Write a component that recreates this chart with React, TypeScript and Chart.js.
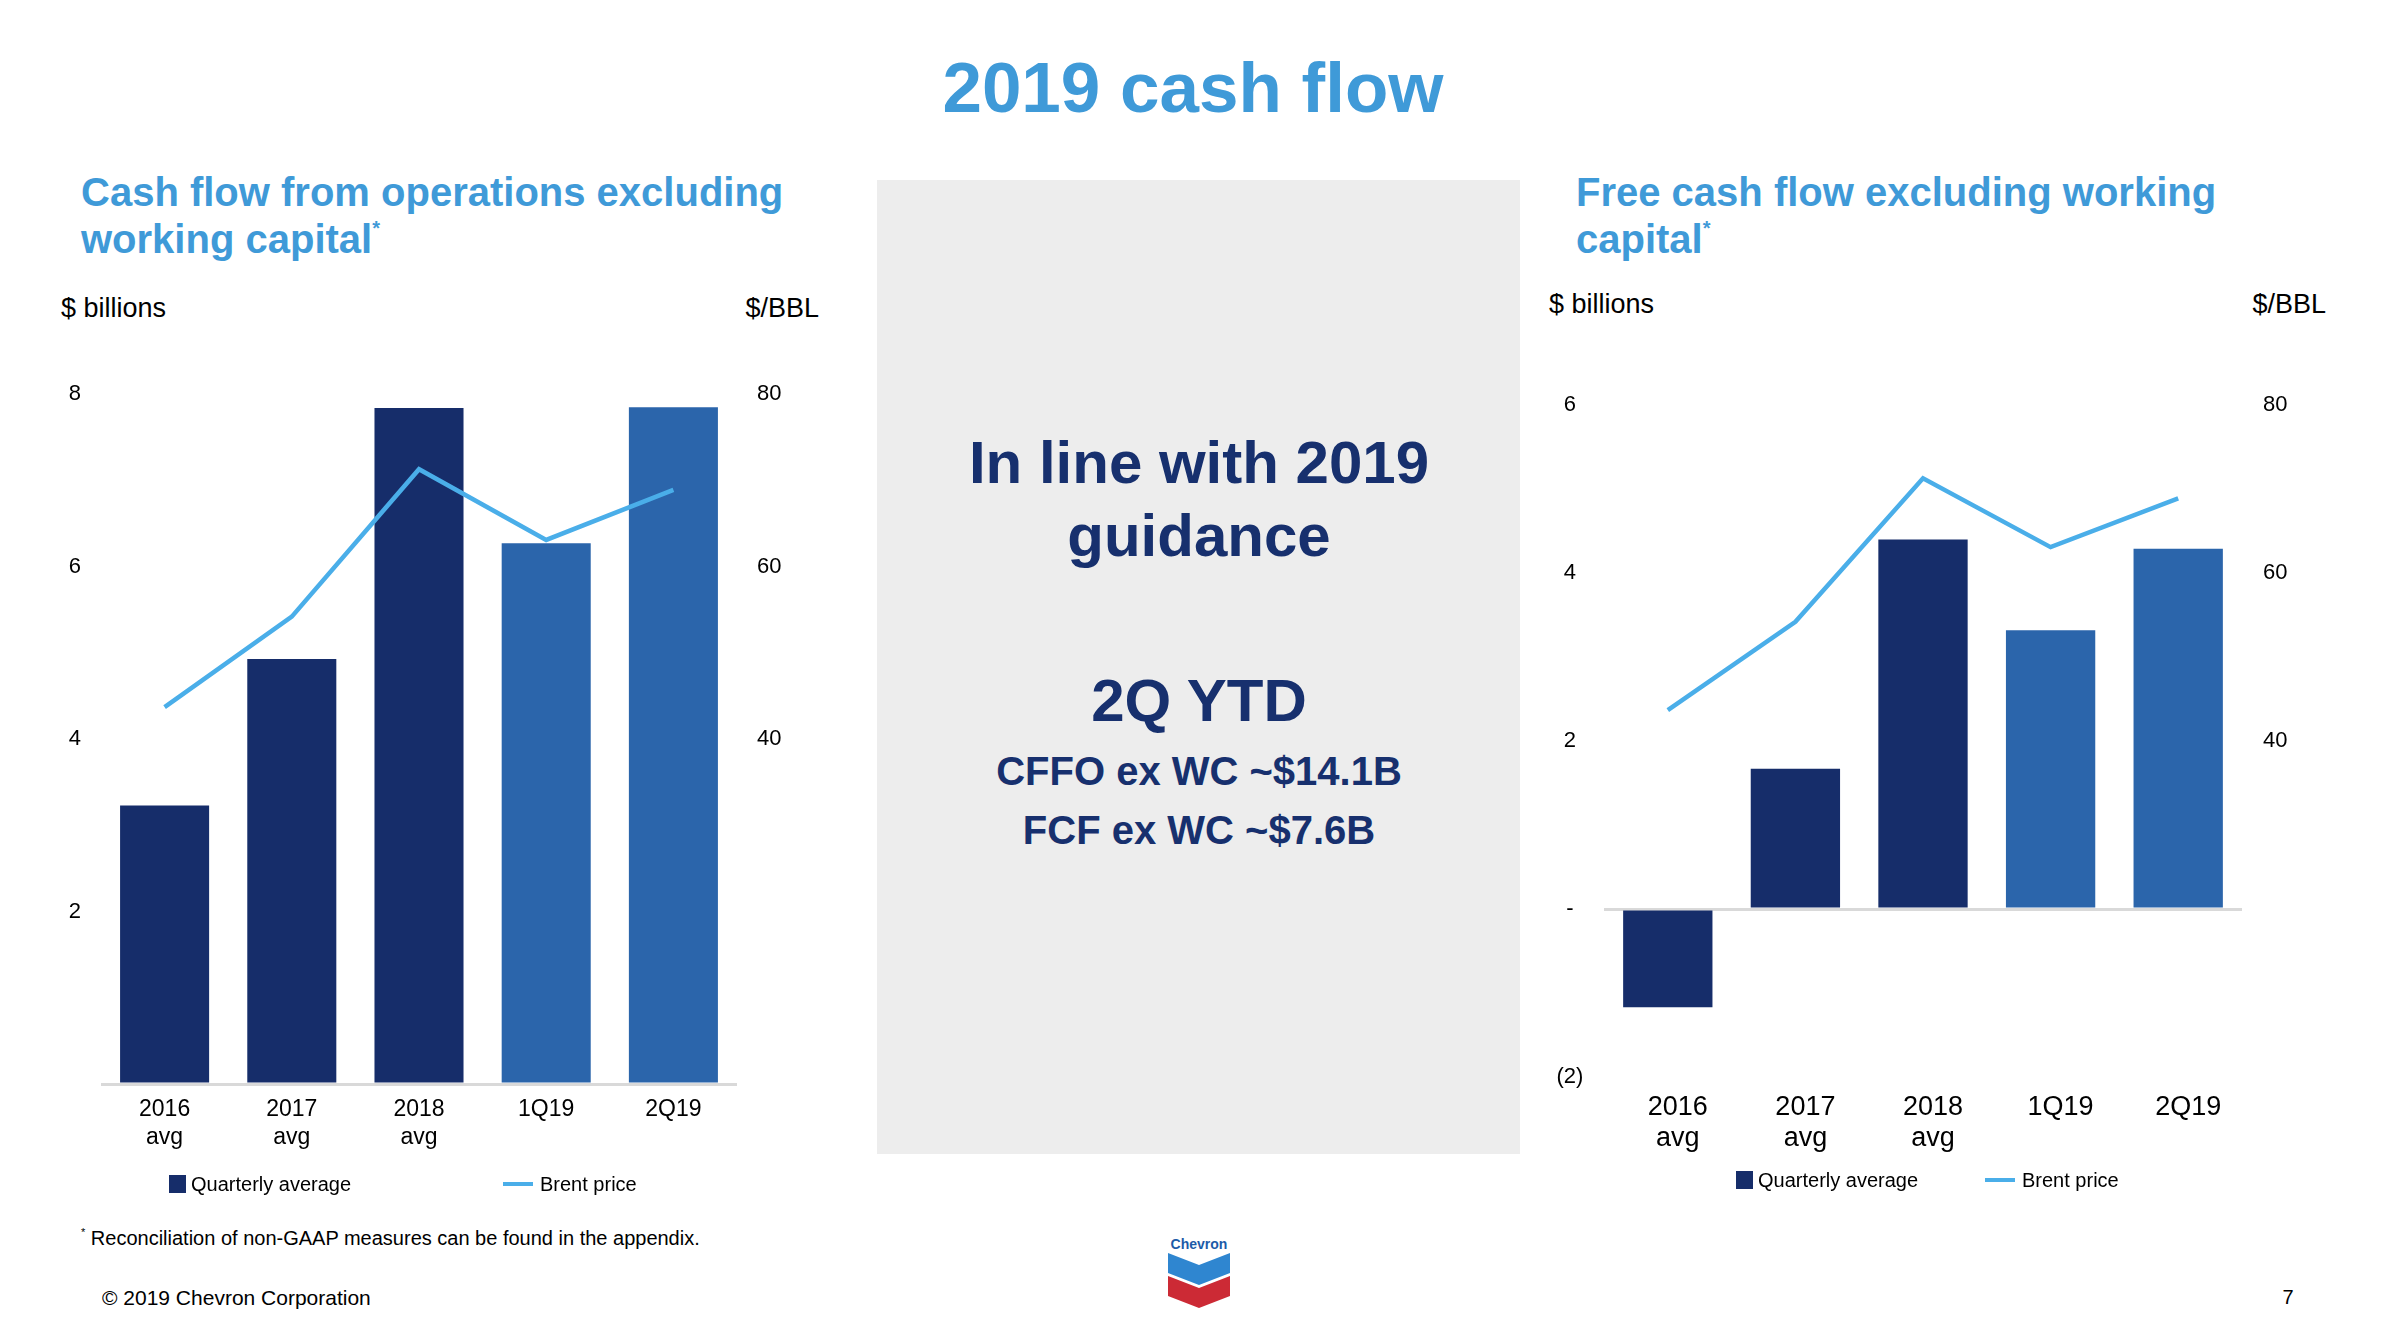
import { useEffect, useRef } from 'react';
import { Chart, registerables } from 'chart.js';

Chart.register(...registerables);

const FONT = "'Liberation Sans', Arial, sans-serif";
const NAVY = '#162d6a';
const MID_BLUE = '#2b65ab';
const BRENT_BLUE = '#4aaee9';
const TITLE_BLUE = '#3f9ad8';
const TEXT_NAVY = '#17306e';

// data
const categories = [['2016', 'avg'], ['2017', 'avg'], ['2018', 'avg'], '1Q19', '2Q19'];
const cffoExWc = [3.23, 4.93, 7.84, 6.27, 7.85];
const fcfExWc = [-1.17, 1.67, 4.4, 3.32, 4.29];
const brentPrice = [43.7, 54.2, 71.3, 63.1, 68.9];
const barColors = [NAVY, NAVY, NAVY, MID_BLUE, MID_BLUE];

const cffoTickValues = [0, 2, 4, 6, 8];
const cffoTickLabels = ['', '2', '4', '6', '8'];
const fcfTickValues = [-2, 0, 2, 4, 6];
const fcfTickLabels = ['(2)', '-', '2', '4', '6'];
const brentTickValues = [40, 60, 80];
const brentTickLabels = ['40', '60', '80'];

interface ComboProps {
  bars: number[];
  line: number[];
  yMin: number;
  yMax: number;
  yTicks: number[];
  yLabels: string[];
  y1Min: number;
  y1Max: number;
  leftWidth: number;
  leftPad: number;
  rightWidth: number;
  rightPad: number;
  xFont: number;
  xLineHeight: number;
  xPad: number;
  xOffset: number;
  xHeight: number;
  width: number;
  height: number;
  left: number;
  top: number;
}

function ComboChart(p: ComboProps) {
  const ref = useRef<HTMLCanvasElement | null>(null);

  useEffect(() => {
    if (ref.current == null) return;
    const chart = new Chart(ref.current, {
      type: 'bar',
      data: {
        labels: categories,
        datasets: [
          {
            type: 'line',
            label: 'Brent price',
            data: p.line,
            yAxisID: 'y1',
            borderColor: BRENT_BLUE,
            borderWidth: 4.5,
            pointRadius: 0,
            tension: 0,
            order: 0,
          },
          {
            type: 'bar',
            label: 'Quarterly average',
            data: p.bars,
            yAxisID: 'y',
            backgroundColor: barColors,
            barPercentage: 0.7,
            categoryPercentage: 1,
            order: 1,
          },
        ],
      },
      options: {
        animation: false,
        responsive: false,
        maintainAspectRatio: false,
        layout: { padding: 0 },
        plugins: { legend: { display: false }, tooltip: { enabled: false } },
        scales: {
          x: {
            grid: { display: false, drawTicks: false },
            border: { display: false },
            ticks: {
              color: '#000',
              font: { family: FONT, size: p.xFont, lineHeight: p.xLineHeight },
              padding: p.xPad,
              labelOffset: p.xOffset,
              maxRotation: 0,
              autoSkip: false,
            },
            afterFit: (s: any) => {
              s.height = p.xHeight;
            },
          },
          y: {
            position: 'left',
            min: p.yMin,
            max: p.yMax,
            afterBuildTicks: (s: any) => {
              s.ticks = p.yTicks.map((v) => ({ value: v }));
            },
            ticks: {
              color: '#000',
              font: { family: FONT, size: 22, lineHeight: 1.2 },
              padding: p.leftPad,
              crossAlign: 'center',
              callback: (v: any) => p.yLabels[p.yTicks.indexOf(Number(v))] ?? '',
            },
            grid: {
              drawTicks: false,
              lineWidth: 3,
              color: (ctx: any) => (ctx.tick && ctx.tick.value === 0 ? '#d9d9d9' : 'rgba(0,0,0,0)'),
            },
            border: { display: false },
            afterFit: (s: any) => {
              s.width = p.leftWidth;
            },
          },
          y1: {
            position: 'right',
            min: p.y1Min,
            max: p.y1Max,
            afterBuildTicks: (s: any) => {
              s.ticks = brentTickValues.map((v) => ({ value: v }));
            },
            ticks: {
              color: '#000',
              font: { family: FONT, size: 22, lineHeight: 1.2 },
              padding: p.rightPad,
              callback: (v: any) => brentTickLabels[brentTickValues.indexOf(Number(v))] ?? '',
            },
            grid: { display: false, drawTicks: false },
            border: { display: false },
            afterFit: (s: any) => {
              s.width = p.rightWidth;
            },
          },
        },
      },
    });
    return () => chart.destroy();
  }, []);

  return (
    <canvas
      ref={ref}
      width={p.width}
      height={p.height}
      style={{ position: 'absolute', left: p.left, top: p.top, width: p.width, height: p.height }}
    />
  );
}

function Txt(props: {
  x: number;
  y: number;
  size: number;
  children: any;
  color?: string;
  bold?: boolean;
  align?: 'left' | 'center' | 'right';
  w?: number;
}) {
  const h = Math.round(props.size * 1.3);
  const w = props.w ?? 1200;
  let left = props.x;
  if (props.align === 'center') left = props.x - w / 2;
  if (props.align === 'right') left = props.x - w;
  return (
    <div
      style={{
        position: 'absolute',
        left,
        top: props.y - h / 2,
        width: w,
        height: h,
        lineHeight: `${h}px`,
        fontSize: props.size,
        fontFamily: FONT,
        fontWeight: props.bold ? 700 : 400,
        color: props.color ?? '#000',
        textAlign: props.align ?? 'left',
        whiteSpace: 'nowrap',
      }}
    >
      {props.children}
    </div>
  );
}

function Legend({ x, y, lineX }: { x: number; y: number; lineX: number }) {
  return (
    <>
      <div style={{ position: 'absolute', left: x, top: y - 9, width: 17, height: 18, background: NAVY }} />
      <Txt x={x + 22} y={y} size={20}>
        Quarterly average
      </Txt>
      <div style={{ position: 'absolute', left: lineX, top: y - 2, width: 30, height: 4, background: BRENT_BLUE }} />
      <Txt x={lineX + 37} y={y} size={20}>
        Brent price
      </Txt>
    </>
  );
}

function Logo() {
  return (
    <svg style={{ position: 'absolute', left: 1168, top: 1236 }} width={62} height={72} viewBox="0 0 62 72">
      <text x={31} y={13} textAnchor="middle" fontFamily={FONT} fontWeight={700} fontSize={14} fill="#1d5ba8">
        Chevron
      </text>
      <polygon points="0,17 31,29 62,17 62,37 31,49 0,37" fill="#2f86d0" />
      <polygon points="0,40 31,52 62,40 62,60 31,72 0,60" fill="#cc2a35" />
    </svg>
  );
}

export default function App() {
  return (
    <div style={{ position: 'absolute', left: 0, top: 0, width: 2388, height: 1324, background: '#fff', overflow: 'hidden' }}>
      <Txt x={1193} y={88} size={71} bold color={TITLE_BLUE} align="center" w={1000}>
        2019 cash flow
      </Txt>

      {/* left panel */}
      <Txt x={81} y={192} size={40} bold color={TITLE_BLUE}>
        Cash flow from operations excluding
      </Txt>
      <Txt x={81} y={239} size={40} bold color={TITLE_BLUE}>
        working capital<sup style={{ fontSize: 20, verticalAlign: 'top', lineHeight: '30px' }}>*</sup>
      </Txt>
      <Txt x={61} y={308} size={27}>
        $ billions
      </Txt>
      <Txt x={819} y={308} size={27} align="right" w={200}>
        $/BBL
      </Txt>
      <ComboChart
        bars={cffoExWc}
        line={brentPrice}
        yMin={0}
        yMax={8}
        yTicks={cffoTickValues}
        yLabels={cffoTickLabels}
        y1Min={0}
        y1Max={80}
        leftWidth={60}
        leftPad={20}
        rightWidth={90}
        rightPad={20}
        xFont={23}
        xLineHeight={1.25}
        xPad={11}
        xOffset={0}
        xHeight={90}
        width={786}
        height={813}
        left={41}
        top={361}
      />
      <Legend x={169} y={1184} lineX={503} />

      {/* middle panel */}
      <div style={{ position: 'absolute', left: 877, top: 180, width: 643, height: 974, background: '#ededed' }} />
      <Txt x={1199} y={463} size={60} bold color={TEXT_NAVY} align="center" w={640}>
        In line with 2019
      </Txt>
      <Txt x={1199} y={536} size={60} bold color={TEXT_NAVY} align="center" w={640}>
        guidance
      </Txt>
      <Txt x={1199} y={701} size={60} bold color={TEXT_NAVY} align="center" w={640}>
        2Q YTD
      </Txt>
      <Txt x={1199} y={771} size={40} bold color={TEXT_NAVY} align="center" w={640}>
        CFFO ex WC ~$14.1B
      </Txt>
      <Txt x={1199} y={830} size={40} bold color={TEXT_NAVY} align="center" w={640}>
        FCF ex WC ~$7.6B
      </Txt>

      {/* right panel */}
      <Txt x={1576} y={192} size={40} bold color={TITLE_BLUE}>
        Free cash flow excluding working
      </Txt>
      <Txt x={1576} y={239} size={40} bold color={TITLE_BLUE}>
        capital<sup style={{ fontSize: 20, verticalAlign: 'top', lineHeight: '30px' }}>*</sup>
      </Txt>
      <Txt x={1549} y={304} size={27}>
        $ billions
      </Txt>
      <Txt x={2326} y={304} size={27} align="right" w={200}>
        $/BBL
      </Txt>
      <ComboChart
        bars={fcfExWc}
        line={brentPrice}
        yMin={-2}
        yMax={6}
        yTicks={fcfTickValues}
        yLabels={fcfTickLabels}
        y1Min={0}
        y1Max={80}
        leftWidth={70}
        leftPad={20.6}
        rightWidth={90}
        rightPad={21}
        xFont={27}
        xLineHeight={1.15}
        xPad={15}
        xOffset={10}
        xHeight={100}
        width={798}
        height={806}
        left={1534}
        top={371}
      />
      <Legend x={1736} y={1180} lineX={1985} />

      {/* footer */}
      <Txt x={81} y={1238} size={20}>
        <sup style={{ fontSize: 11, verticalAlign: 'top', lineHeight: '14px' }}>*</sup> Reconciliation of non-GAAP measures can be found in the appendix.
      </Txt>
      <Txt x={102} y={1297} size={21}>
        © 2019 Chevron Corporation
      </Txt>
      <Txt x={2288} y={1297} size={20} align="center" w={100}>
        7
      </Txt>
      <Logo />
    </div>
  );
}
